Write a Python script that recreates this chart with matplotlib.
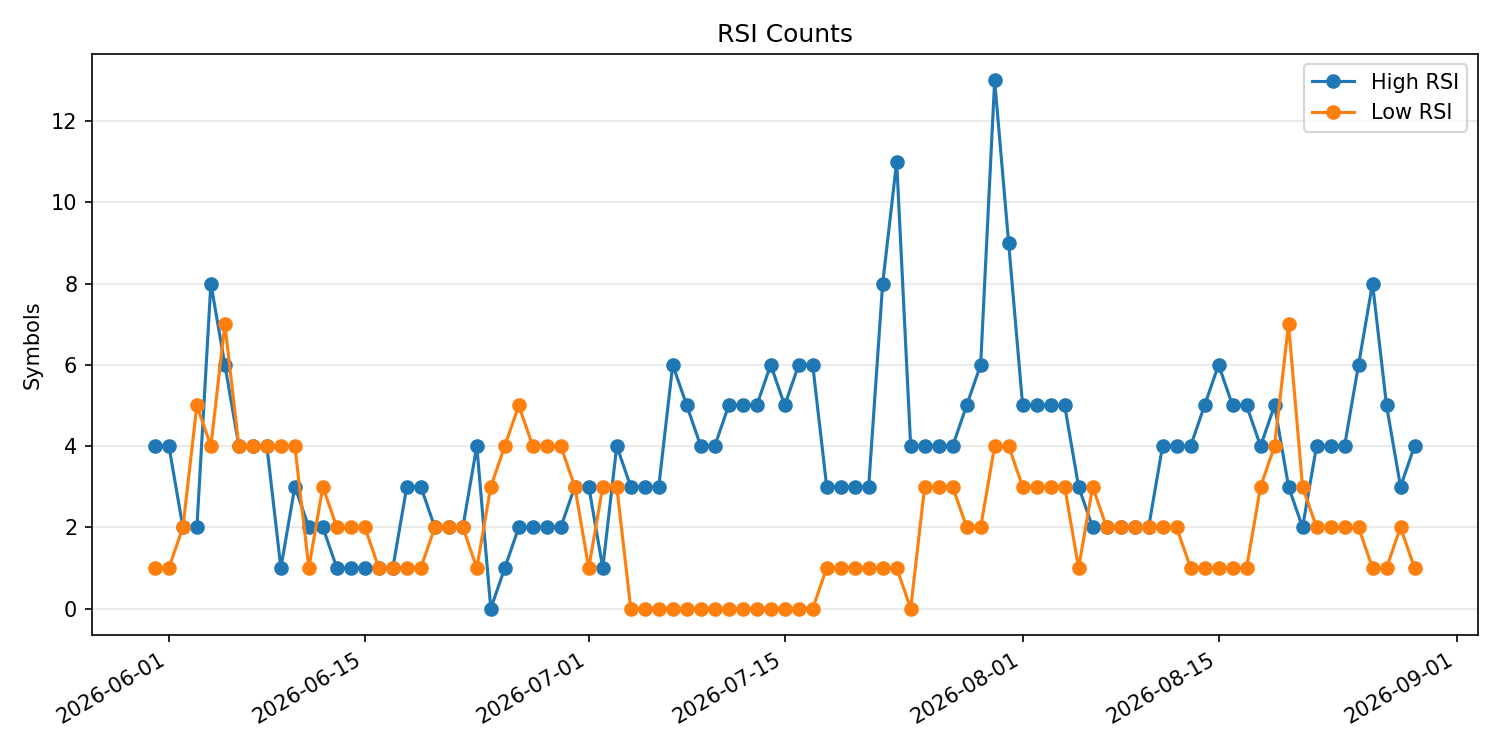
import numpy as np
import pandas as pd
import matplotlib
matplotlib.use('Agg')
import matplotlib.pyplot as plt

# one point per day, 2026-05-31 .. 2026-08-29
dates = pd.date_range("2026-05-31", "2026-08-29", freq="D")

high_rsi = [4, 4, 2, 2, 8, 6, 4, 4, 4, 1,
            3, 2, 2, 1, 1, 1, 1, 1, 3, 3,
            2, 2, 2, 4, 0, 1, 2, 2, 2, 2,
            3, 3, 1, 4, 3, 3, 3, 6, 5, 4,
            4, 5, 5, 5, 6, 5, 6, 6, 3, 3,
            3, 3, 8, 11, 4, 4, 4, 4, 5, 6,
            13, 9, 5, 5, 5, 5, 3, 2, 2, 2,
            2, 2, 4, 4, 4, 5, 6, 5, 5, 4,
            5, 3, 2, 4, 4, 4, 6, 8, 5, 3,
            4]

low_rsi = [1, 1, 2, 5, 4, 7, 4, 4, 4, 4,
           4, 1, 3, 2, 2, 2, 1, 1, 1, 1,
           2, 2, 2, 1, 3, 4, 5, 4, 4, 4,
           3, 1, 3, 3, 0, 0, 0, 0, 0, 0,
           0, 0, 0, 0, 0, 0, 0, 0, 1, 1,
           1, 1, 1, 1, 0, 3, 3, 3, 2, 2,
           4, 4, 3, 3, 3, 3, 1, 3, 2, 2,
           2, 2, 2, 2, 1, 1, 1, 1, 1, 3,
           4, 7, 3, 2, 2, 2, 2, 1, 1, 2,
           1]

fig, ax = plt.subplots(figsize=(10, 5), dpi=150)
ax.plot(dates, high_rsi, marker='o', label='High RSI')
ax.plot(dates, low_rsi, marker='o', label='Low RSI')

ax.set_title("RSI Counts")
ax.set_ylabel("Symbols")
ax.grid(axis='y', alpha=0.3)
ax.legend(loc='upper right')
fig.autofmt_xdate()

fig.tight_layout()
fig.savefig("out.png")
plt.close(fig)
